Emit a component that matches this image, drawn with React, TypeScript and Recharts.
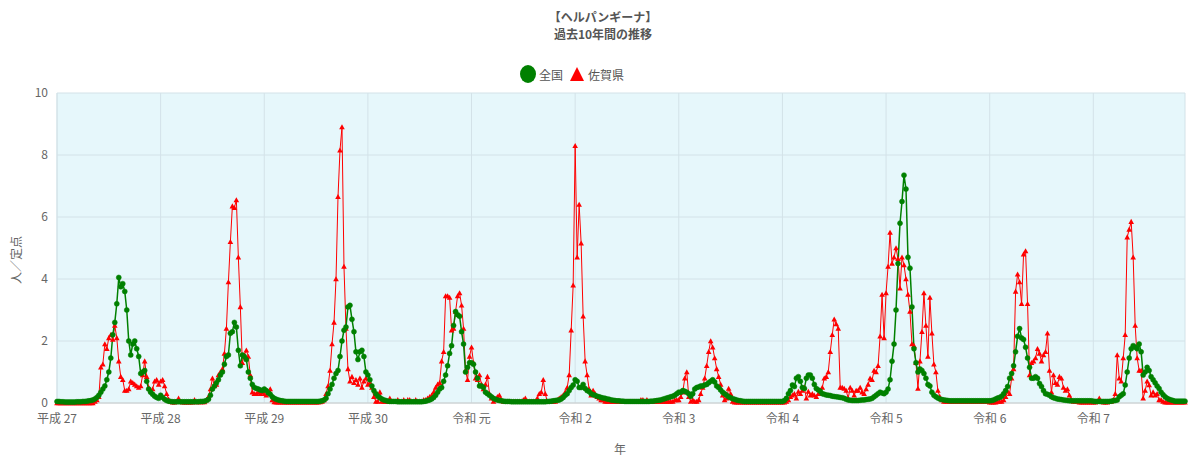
import React from "react";
import { CartesianGrid, Line, LineChart, XAxis, YAxis } from "recharts";

// 年ラベル（各年の第1週に表示）
const yearLabels = ["平成 27", "平成 28", "平成 29", "平成 30", "令和 元", "令和 2", "令和 3", "令和 4", "令和 5", "令和 6", "令和 7"];

// 全国（人／定点）週別
const zenkoku2015 = [0.05,0.05,0.04,0.04,0.03,0.03,0.03,0.03,0.03,0.03, 0.04,0.04,0.04,0.05,0.05,0.06,0.07,0.08,0.1,0.13, 0.18,0.25,0.35,0.45,0.55,0.75,1.0,1.45,2.2,2.6, 3.2,4.05,3.75,3.85,3.6,3.0,2.0,1.55,1.9,2.0, 1.75,1.5,0.95,1.0,1.05,0.7,0.45,0.35,0.28,0.22, 0.18,0.15];
const zenkoku2016 = [0.25,0.18,0.12,0.08,0.06,0.05,0.04,0.04,0.04,0.04, 0.04,0.04,0.04,0.04,0.04,0.04,0.04,0.04,0.04,0.04, 0.05,0.05,0.06,0.08,0.12,0.25,0.45,0.55,0.65,0.75, 0.9,1.0,1.25,1.5,1.55,2.25,2.3,2.6,2.45,1.7, 1.2,1.55,1.5,1.4,1.0,0.8,0.6,0.5,0.47,0.45, 0.42,0.4];
const zenkoku2017 = [0.45,0.4,0.33,0.28,0.2,0.15,0.12,0.1,0.08,0.07, 0.06,0.05,0.05,0.05,0.05,0.05,0.05,0.05,0.05,0.05, 0.05,0.05,0.05,0.05,0.05,0.05,0.05,0.05,0.06,0.07, 0.1,0.15,0.3,0.45,0.6,0.8,0.95,1.05,1.5,2.0, 2.35,2.45,3.1,3.15,2.7,2.3,1.65,1.4,1.65,1.7, 1.5,1.0];
const zenkoku2018 = [0.9,0.75,0.55,0.4,0.3,0.22,0.17,0.13,0.1,0.08, 0.06,0.05,0.05,0.05,0.05,0.04,0.04,0.04,0.04,0.04, 0.04,0.04,0.04,0.04,0.04,0.04,0.04,0.04,0.05,0.06, 0.08,0.1,0.13,0.18,0.25,0.35,0.45,0.5,0.7,0.9, 1.2,1.6,1.85,2.5,2.95,2.85,2.8,2.3,1.9,1.0, 1.15,1.3];
const zenkoku2019 = [1.3,1.25,1.0,0.8,0.55,0.55,0.5,0.35,0.3,0.25, 0.2,0.15,0.12,0.1,0.08,0.07,0.06,0.05,0.05,0.05, 0.04,0.04,0.04,0.04,0.04,0.04,0.04,0.04,0.04,0.04, 0.04,0.04,0.04,0.04,0.04,0.04,0.04,0.04,0.05,0.05, 0.06,0.07,0.08,0.09,0.1,0.13,0.18,0.25,0.3,0.4, 0.5,0.58];
const zenkoku2020 = [0.75,0.7,0.5,0.5,0.6,0.47,0.4,0.37,0.3,0.27, 0.25,0.22,0.2,0.18,0.16,0.15,0.13,0.12,0.1,0.09, 0.08,0.07,0.07,0.06,0.06,0.05,0.05,0.05,0.05,0.05, 0.05,0.05,0.05,0.05,0.05,0.05,0.05,0.05,0.06,0.06, 0.07,0.08,0.09,0.1,0.12,0.14,0.16,0.18,0.2,0.22, 0.25,0.3];
const zenkoku2021 = [0.35,0.35,0.4,0.38,0.35,0.3,0.22,0.3,0.45,0.5, 0.52,0.55,0.55,0.58,0.6,0.65,0.7,0.75,0.68,0.55, 0.5,0.42,0.35,0.3,0.25,0.2,0.17,0.14,0.12,0.1, 0.08,0.07,0.06,0.05,0.05,0.05,0.05,0.05,0.05,0.05, 0.05,0.05,0.05,0.05,0.05,0.05,0.05,0.05,0.05,0.05, 0.05,0.05];
const zenkoku2022 = [0.05,0.08,0.15,0.3,0.4,0.58,0.53,0.8,0.85,0.7, 0.5,0.47,0.8,0.9,0.9,0.8,0.6,0.47,0.42,0.38, 0.3,0.28,0.26,0.25,0.24,0.22,0.21,0.2,0.19,0.18, 0.17,0.15,0.12,0.1,0.09,0.08,0.08,0.08,0.08,0.09, 0.1,0.1,0.11,0.12,0.13,0.15,0.2,0.25,0.3,0.35, 0.32,0.3];
const zenkoku2023 = [0.35,0.45,0.75,1.35,1.9,3.0,4.5,5.8,6.5,7.35, 6.9,4.7,4.35,3.1,1.75,1.3,1.0,1.1,1.05,0.95, 0.8,0.6,0.55,0.35,0.25,0.2,0.16,0.13,0.11,0.1, 0.09,0.08,0.07,0.07,0.07,0.07,0.07,0.07,0.07,0.07, 0.07,0.07,0.07,0.07,0.07,0.07,0.07,0.07,0.07,0.07, 0.07,0.07];
const zenkoku2024 = [0.07,0.08,0.1,0.13,0.16,0.18,0.22,0.3,0.4,0.53, 0.8,0.95,1.2,1.65,2.15,2.4,2.1,2.05,1.8,1.45, 1.15,0.8,0.8,0.85,0.8,0.63,0.53,0.4,0.3,0.28, 0.25,0.2,0.17,0.15,0.13,0.12,0.11,0.1,0.09,0.08, 0.07,0.07,0.07,0.07,0.07,0.07,0.07,0.07,0.07,0.07, 0.07,0.07];
const zenkoku2025 = [0.06,0.05,0.05,0.05,0.05,0.05,0.05,0.05,0.05,0.06, 0.07,0.08,0.1,0.2,0.25,0.3,0.58,1.0,1.45,1.75, 1.85,1.8,1.75,1.9,1.65,0.9,1.0,1.15,1.05,0.85, 0.75,0.65,0.55,0.47,0.35,0.27,0.2,0.15,0.12,0.1, 0.08,0.06,0.06,0.06,0.06,0.06,0.06];

// 佐賀県（人／定点）週別
const saga2015 = [0,0,0,0,0,0,0,0,0,0, 0,0,0,0,0,0,0,0,0,0.05, 0.1,0.2,1.15,1.25,1.9,1.75,2.1,2.2,2.05,2.5, 2.1,1.35,0.85,0.75,0.4,0.4,0.45,0.7,0.65,0.6, 0.55,0.5,0.55,0.9,1.35,0.85,0.5,0.4,0.45,0.7, 0.75,0.6];
const saga2016 = [0.7,0.75,0.55,0.3,0.12,0.05,0.02,0.02,0.05,0.15, 0.05,0.02,0.02,0.02,0.02,0.02,0.02,0.1,0.03,0.03, 0.03,0.03,0.03,0.1,0.2,0.45,0.8,0.55,0.6,0.9, 1.0,1.1,1.6,2.4,3.9,5.2,6.35,6.3,6.55,4.7, 3.1,1.3,1.55,1.7,1.5,0.9,0.35,0.3,0.3,0.35, 0.3,0.35];
const saga2017 = [0.3,0.25,0.35,0.45,0.1,0.03,0.02,0.02,0.02,0.02, 0.02,0.02,0.02,0.02,0.02,0.02,0.02,0.02,0.02,0.02, 0.02,0.02,0.02,0.02,0.02,0.02,0.02,0.02,0.03,0.05, 0.1,0.3,0.55,1.05,1.9,2.6,4.0,6.65,8.15,8.9, 4.4,2.4,1.1,0.7,0.85,0.65,0.75,0.6,0.8,0.5, 0.7,0.8];
const saga2018 = [0.6,0.65,0.5,0.2,0.05,0.05,0.35,0.05,0.05,0.05, 0.05,0.15,0.05,0.05,0.05,0.1,0.05,0.05,0.1,0.05, 0.1,0.1,0.05,0.05,0.1,0.05,0.05,0.05,0.1,0.1, 0.15,0.2,0.25,0.35,0.5,0.6,0.65,1.35,1.65,3.45, 3.45,3.4,2.35,2.4,2.95,3.45,3.55,3.15,2.4,1.05, 0.75,1.5];
const saga2019 = [1.8,1.3,0.8,0.75,0.9,0.6,0.45,0.6,0.85,0.3, 0.15,0.05,0.1,0.2,0.25,0.1,0.05,0.05,0.05,0.05, 0.05,0.05,0.05,0.05,0.05,0.05,0.1,0.15,0.05,0.05, 0.05,0.05,0.05,0.15,0.3,0.35,0.75,0.3,0.05,0.05, 0.05,0.05,0.05,0.1,0.15,0.2,0.25,0.35,0.5,0.9, 2.35,3.8];
const saga2020 = [8.3,4.7,6.4,5.15,2.8,1.35,0.9,0.45,0.25,0.4, 0.3,0.2,0.15,0.1,0.1,0.05,0.05,0.05,0.05,0.05, 0.05,0.05,0.05,0.05,0.05,0.05,0.05,0.05,0.05,0.05, 0.05,0.05,0.05,0.1,0.1,0.05,0.1,0.05,0.05,0.05, 0.05,0.05,0.05,0.05,0.05,0.05,0.05,0.05,0.05,0.05, 0.1,0.1];
const saga2021 = [0.1,0.2,0.35,0.8,1.0,0.2,0.05,0.1,0.05,0.05, 0.1,0.3,0.5,0.8,1.2,1.65,2.0,1.8,1.45,1.1, 0.85,0.6,0.25,0.1,0.15,0.47,0.3,0.05,0.02,0.02, 0.02,0.02,0.02,0.02,0.02,0.02,0.02,0.02,0.02,0.02, 0.02,0.02,0.02,0.02,0.02,0.02,0.02,0.02,0.02,0.02, 0.02,0.02];
const saga2022 = [0.02,0.02,0.05,0.1,0.2,0.25,0.3,0.15,0.37,0.3, 0.4,0.5,0.15,0.37,0.25,0.3,0.25,0.2,0.3,0.35, 0.5,0.8,0.85,1.0,1.65,2.2,2.7,2.55,2.4,0.5, 0.5,0.47,0.4,0.15,0.5,0.4,0.25,0.4,0.4,0.5, 0.35,0.3,0.45,0.6,0.8,0.75,1.05,1.0,1.2,2.15, 3.5,2.1];
const saga2023 = [3.55,4.4,5.5,4.5,4.7,5.0,4.65,3.7,4.7,4.45, 4.0,3.5,2.95,1.9,1.85,1.3,0.47,1.35,2.3,3.55, 2.5,1.5,3.4,2.25,1.25,1.0,0.4,0.2,0.1,0.05, 0.05,0.05,0.05,0.05,0.05,0.05,0.05,0.05,0.05,0.05, 0.05,0.05,0.05,0.05,0.05,0.05,0.05,0.05,0.05,0.05, 0.05,0.05];
const saga2024 = [0.02,0.02,0.02,0.02,0.05,0.05,0.05,0.1,0.2,0.37, 0.3,0.8,1.1,3.6,4.15,3.9,3.2,4.8,4.9,3.2, 0.9,1.3,1.35,1.45,1.75,1.6,1.35,1.55,1.65,2.25, 1.05,0.35,0.9,0.65,0.6,0.85,0.8,0.5,0.4,0.45, 0.25,0.1,0.05,0.05,0.05,0.02,0.02,0.02,0.02,0.02, 0.02,0.02];
const saga2025 = [0.02,0.02,0.05,0.15,0.05,0.02,0.02,0.02,0.05,0.05, 0.1,0.3,1.55,0.8,0.7,1.45,2.2,5.35,5.6,5.85, 4.7,2.5,1.45,1.05,1.05,0.15,0.4,0.7,0.58,0.25, 0.35,0.25,0.3,0.1,0.1,0.05,0.02,0.02,0.02,0.02, 0.02,0.02,0.02,0.02,0.02,0.02,0.02];

const zenkokuByYear = [zenkoku2015, zenkoku2016, zenkoku2017, zenkoku2018, zenkoku2019, zenkoku2020, zenkoku2021, zenkoku2022, zenkoku2023, zenkoku2024, zenkoku2025];
const sagaByYear = [saga2015, saga2016, saga2017, saga2018, saga2019, saga2020, saga2021, saga2022, saga2023, saga2024, saga2025];

const yTicks = [0, 2, 4, 6, 8, 10];

// 週ごとの通し番号でデータを組み立てる
const yearStarts: number[] = [];
const data: { x: number; zenkoku: number; saga: number }[] = [];
zenkokuByYear.forEach((weeks, y) => {
  yearStarts.push(data.length);
  weeks.forEach((v, w) => {
    data.push({ x: data.length, zenkoku: v, saga: sagaByYear[y][w] });
  });
});

const FONT = '"Noto Sans CJK JP", "Noto Sans", sans-serif';

const TriangleDot = (props: any) => {
  const { cx, cy, index } = props;
  if (cx == null || cy == null) return <g key={`t-${index}`} />;
  const s = 2.8;
  return (
    <path
      key={`t-${index}`}
      d={`M${cx},${cy - s} L${cx + s},${cy + s * 0.8} L${cx - s},${cy + s * 0.8} Z`}
      fill="#ff0000"
    />
  );
};

export default function App() {
  return (
    <div
      style={{
        position: "absolute",
        left: 0,
        top: 0,
        width: 1191,
        height: 456,
        overflow: "hidden",
        background: "#fff",
        fontFamily: FONT,
      }}
    >
      {/* タイトル */}
      <div
        style={{
          position: "absolute",
          left: 0,
          width: 1206,
          top: 8,
          textAlign: "center",
          fontSize: 12,
          fontWeight: "bold",
          color: "#555",
          lineHeight: "17px",
        }}
      >
        <div>【ヘルパンギーナ】</div>
        <div>過去10年間の推移</div>
      </div>

      {/* 凡例 */}
      <div
        style={{
          position: "absolute",
          top: 65,
          left: 520,
          display: "flex",
          alignItems: "center",
          fontSize: 12,
          color: "#555",
          height: 18,
        }}
      >
        <span style={{ display: "inline-block", width: 16, height: 18, borderRadius: "50%", background: "#008000", marginRight: 3 }} />
        <span style={{ marginRight: 6 }}>全国</span>
        <svg width={16} height={16} style={{ marginRight: 3 }}>
          <path d="M8,1 L15,15 L1,15 Z" fill="#ff0000" />
        </svg>
        <span>佐賀県</span>
      </div>

      {/* 縦軸ラベル */}
      <div
        style={{
          position: "absolute",
          left: 15,
          top: 260,
          transform: "translate(-50%, -50%) rotate(-90deg)",
          fontSize: 12,
          color: "#666",
          whiteSpace: "nowrap",
        }}
      >
        人／定点
      </div>

      {/* 横軸ラベル */}
      <div
        style={{
          position: "absolute",
          left: 614,
          top: 443,
          fontSize: 12,
          lineHeight: "12px",
          color: "#666",
        }}
      >
        年
      </div>

      <LineChart
        width={1191}
        height={456}
        data={data}
        margin={{ top: 93, right: 6, bottom: 23, left: 0 }}
      >
        <CartesianGrid fill="#e6f7fb" stroke="#d3e2e8" />
        <XAxis
          dataKey="x"
          type="number"
          domain={[0, data.length - 1]}
          ticks={yearStarts}
          interval={0}
          tickFormatter={(v: number) => yearLabels[yearStarts.indexOf(v)]}
          tick={{ fill: "#666", fontSize: 12, fontFamily: FONT }}
          tickLine={false}
          tickMargin={5}
          axisLine={{ stroke: "#cccccc" }}
          height={30}
        />
        <YAxis
          domain={[0, 10]}
          ticks={yTicks}
          width={57}
          tick={{ fill: "#666", fontSize: 12, fontFamily: FONT }}
          tickLine={false}
          tickMargin={3}
          axisLine={{ stroke: "#d3e2e8" }}
        />
        <Line
          dataKey="saga"
          name="佐賀県"
          type="linear"
          stroke="#ff0000"
          strokeWidth={1}
          dot={TriangleDot}
          activeDot={false}
          isAnimationActive={false}
        />
        <Line
          dataKey="zenkoku"
          name="全国"
          type="linear"
          stroke="#008000"
          strokeWidth={1.5}
          dot={{ r: 2.5, fill: "#008000", stroke: "#008000", strokeWidth: 0.5 }}
          activeDot={false}
          isAnimationActive={false}
        />
      </LineChart>
    </div>
  );
}
